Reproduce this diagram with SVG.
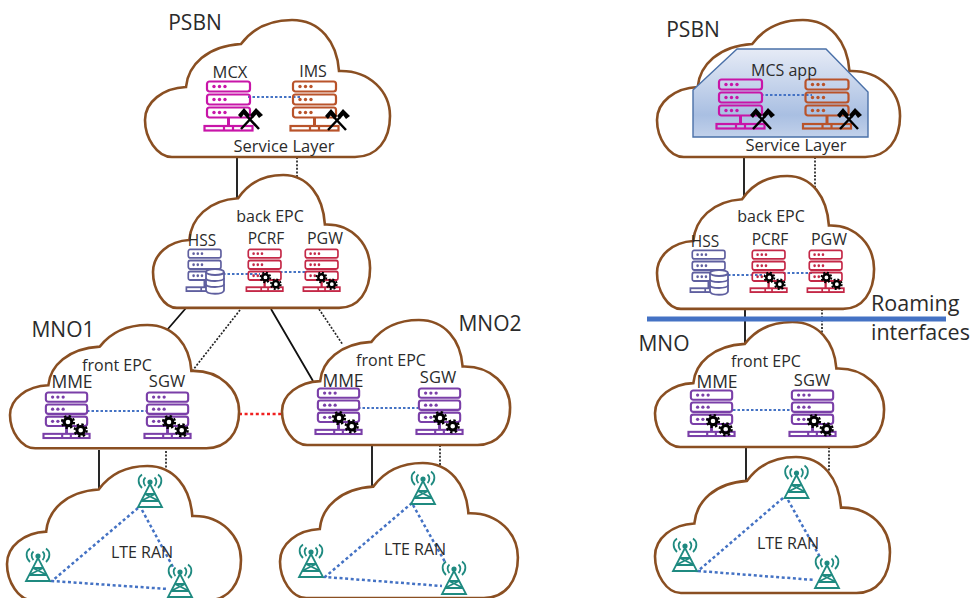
<svg xmlns="http://www.w3.org/2000/svg" width="971" height="598" viewBox="0 0 971 598">
<style>
text{font-family:"Open Sans","Noto Sans",sans-serif;fill:#2b2b2b;text-anchor:middle}
.t1{font-size:21px}.t2{font-size:16.5px}.t3{font-size:16px}.t4{font-size:15.5px}.t5{font-size:17.5px}.t6{font-size:21.5px;text-anchor:start}
.sl{font-size:16.5px}
.cl{fill:#fff;stroke:#8a4f22;stroke-width:2.6;vector-effect:non-scaling-stroke}
.so{stroke:#111;stroke-width:1.8;fill:none}
.do{stroke:#222;stroke-width:1.7;stroke-dasharray:2 1.6;fill:none}
.li{stroke:#4472c4;stroke-width:2;stroke-dasharray:2.5 2;fill:none}
.ra{stroke:#4472c4;stroke-width:2.5;stroke-dasharray:3 2.6;fill:none}
.mcx{color:#c815a8}.ims{color:#b9532a}.hss{color:#5f5f9f}.pc{color:#c42847}.mm{color:#7a3fa8}.tw{color:#1f8a80}
</style>
<defs>
<path id="cloud" class="cl" d="M27 137C12 137 0 118 0 100C0 82 18 68 41 67C43 45 62 26 96 24C108 8 125 0 147 0C175 0 192 22 194 51C225 50 245 72 245 96C245 120 232 137 210 137Z"/>
<linearGradient id="app" x1="0" y1="0" x2="0" y2="1"><stop offset="0" stop-color="#e6ebf6"/><stop offset=".75" stop-color="#a9bfe2"/><stop offset="1" stop-color="#c2d1ea"/></linearGradient>
<g id="server" fill="none" stroke="currentColor" stroke-width="2.2">
<rect x="3" y="0.5" width="43" height="10" rx="2.5"/><rect x="3" y="13.5" width="43" height="10" rx="2.5"/><rect x="3" y="26.5" width="43" height="10" rx="2.5"/>
<path d="M24.5 37V45" stroke-width="3"/><rect x="0.5" y="45" width="48" height="4.5"/><path d="M20 45v4.5M29 45v4.5"/>
<g fill="currentColor" stroke="none"><circle cx="10" cy="5.5" r="1.7"/><circle cx="15.500" cy="5.5" r="1.7"/><circle cx="21" cy="5.5" r="1.7"/><circle cx="10" cy="18.5" r="1.7"/><circle cx="15.500" cy="18.5" r="1.7"/><circle cx="21" cy="18.5" r="1.7"/><circle cx="10" cy="31.5" r="1.7"/><circle cx="15.500" cy="31.5" r="1.7"/><circle cx="21" cy="31.5" r="1.7"/></g>
</g>
<g id="tools" stroke="#000" fill="none">
<path d="M2 21L17 5M20 21L5 5" stroke-width="2.5"/><path d="M11 7L17 0L24 7L20 10L17 6L14 10ZM-1 7L5 0L11 7L8 10L5 6L2 10Z" fill="#000" stroke="none"/>
</g>
<g id="gears" fill="none" stroke="#000">
<circle cx="6" cy="6" r="3.8" stroke-width="3"/><circle cx="6" cy="6" r="6" stroke-width="2.2" stroke-dasharray="2.4 2.3"/>
<circle cx="18.7" cy="14.3" r="3.8" stroke-width="3"/><circle cx="18.7" cy="14.3" r="6" stroke-width="2.2" stroke-dasharray="2.4 2.3"/>
</g>
<g id="db" fill="#fff" stroke="#5f5f9f" stroke-width="1.8">
<path d="M0 3V21C0 26 18 26 18 21V3"/><ellipse cx="9" cy="3" rx="9" ry="3"/><path d="M0 9C0 13 18 13 18 9M0 15C0 19 18 19 18 15" fill="none"/>
</g>
<g id="tower" fill="none" stroke="currentColor" stroke-width="1.8">
<path d="M13 10L1 33H25ZM8 20H18M4 27H22M8 20L22 27M18 20L4 27"/>
<circle cx="13" cy="8" r="1.7" fill="currentColor"/>
<path d="M8.500 12C6 9.500 6 5.500 8.500 3.500M17.500 12C20 9.500 20 5.500 17.500 3.500M5 14C0.500 9.500 0.500 3.500 5 0.500M21 14C25.500 9.500 25.500 3.500 21 0.500"/>
</g>
</defs>
<g id="connectors">
<path class="so" d="M237 157V203M186 308L167 330M271 309L313 381M99 450V493M372 445V488M744 157V203M745 309V345M746 447V483"/>
<path class="do" d="M297 157V178M240 310L193 370M319 309L343 345M166 451V472M440 445V468M815 157V190M822 309V335M829 447V475"/>
<path d="M239 414H283" fill="none" stroke="#f02020" stroke-width="2.4" stroke-dasharray="3 2.6"/>
</g>
<g id="psbn-left"><use href="#cloud" transform="translate(145 20)"/>
<path class="li" d="M248 97H302"/>
<use href="#server" class="mcx" transform="translate(204 81)"/><use href="#server" class="ims" transform="translate(290 81)"/>
<use href="#tools" transform="translate(239 108)"/><use href="#tools" transform="translate(326 109)"/>
<text class="t1" x="195" y="30">PSBN</text><text class="t2" x="230" y="78">MCX</text><text class="t3" x="313" y="77">IMS</text><text class="sl" x="284" y="152">Service Layer</text></g>
<g id="back-epc-left"><use href="#cloud" transform="translate(153 175) scale(.886 .97)"/>
<path class="li" d="M223 274H260M280 272H307"/>
<use href="#server" class="hss" transform="translate(186 249) scale(.76 .85)"/><use href="#db" transform="translate(206 269)"/>
<use href="#server" class="pc" transform="translate(246 249) scale(.76 .85)"/><use href="#gears" transform="translate(260.500 272.500) scale(.82)"/>
<use href="#server" class="pc" transform="translate(303 249) scale(.76 .85)"/><use href="#gears" transform="translate(316.500 272.500) scale(.82)"/>
<text class="t3" x="270" y="222">back EPC</text><text class="t4" x="202" y="246">HSS</text><text class="t4" x="266" y="244">PCRF</text><text class="t3" x="325" y="244">PGW</text></g>
<g id="mno1-front"><use href="#cloud" transform="translate(10 325) scale(.935 .9)"/>
<path class="li" d="M87 411H147"/>
<use href="#server" class="mm" transform="translate(43 392) scale(.96 .93)"/><use href="#gears" transform="translate(62 416)"/>
<use href="#server" class="mm" transform="translate(144 392) scale(.96 .93)"/><use href="#gears" transform="translate(163 416)"/>
<text class="t1" x="63" y="337">MNO1</text><text class="t3" x="117" y="371">front EPC</text><text class="t5" x="72" y="388">MME</text><text class="t2" x="167" y="387">SGW</text></g>
<g id="mno2-front"><use href="#cloud" transform="translate(282 320) scale(.931 .912)"/>
<path class="li" d="M358 408H418"/>
<use href="#server" class="mm" transform="translate(315 388) scale(.96 .93)"/><use href="#gears" transform="translate(333 412)"/>
<use href="#server" class="mm" transform="translate(416 388) scale(.96 .93)"/><use href="#gears" transform="translate(434 412)"/>
<text class="t1" x="490" y="331">MNO2</text><text class="t3" x="391" y="366">front EPC</text><text class="t5" x="343" y="387">MME</text><text class="t2" x="438" y="383">SGW</text></g>
<g id="ran1"><use href="#cloud" transform="translate(7 466) scale(.955 .98)"/>
<path class="ra" d="M138 508L52 581L168 589M142 510L173 567"/>
<use href="#tower" class="tw" transform="translate(137 474)"/><use href="#tower" class="tw" transform="translate(25 548)"/><use href="#tower" class="tw" transform="translate(167 564)"/>
<text class="t3" x="142" y="558">LTE RAN</text></g>
<g id="ran2"><use href="#cloud" transform="translate(280 463) scale(.971 .985)"/>
<path class="ra" d="M412 503L325 577L442 586M413 505L445 562"/>
<use href="#tower" class="tw" transform="translate(410 471)"/><use href="#tower" class="tw" transform="translate(298 544)"/><use href="#tower" class="tw" transform="translate(441 561)"/>
<text class="t3" x="415" y="555">LTE RAN</text></g>
<g id="psbn-right"><use href="#cloud" transform="translate(657 20) scale(.992 1)"/>
<polygon points="693,90 737,49 826,49 868,92 868,137 693,137" fill="url(#app)" stroke="#4a70a8" stroke-width="1.4"/>
<path class="li" d="M761 95H812"/>
<use href="#server" class="mcx" transform="translate(716 79)"/><use href="#server" class="ims" transform="translate(802.500 79)"/>
<use href="#tools" transform="translate(751 108)"/><use href="#tools" transform="translate(838 108)"/>
<text class="t1" x="693" y="37">PSBN</text><text class="t3" x="784" y="76">MCS app</text><text class="sl" x="796" y="151">Service Layer</text></g>
<g id="back-epc-right"><use href="#cloud" transform="translate(657 176) scale(.886 .97)"/>
<path class="li" d="M728 275H765M783 273H812"/>
<use href="#server" class="hss" transform="translate(690 250) scale(.76 .85)"/><use href="#db" transform="translate(710 270)"/>
<use href="#server" class="pc" transform="translate(750 250) scale(.76 .85)"/><use href="#gears" transform="translate(764.500 272.500) scale(.82)"/>
<use href="#server" class="pc" transform="translate(807 250) scale(.76 .85)"/><use href="#gears" transform="translate(821.500 272.500) scale(.82)"/>
<text class="t3" x="771" y="222">back EPC</text><text class="t4" x="705" y="247">HSS</text><text class="t4" x="770" y="245">PCRF</text><text class="t3" x="829" y="245">PGW</text></g>
<g id="mno-right"><use href="#cloud" transform="translate(655 322) scale(.935 .912)"/>
<path class="li" d="M733 410H791"/>
<use href="#server" class="mm" transform="translate(688 390) scale(.96 .93)"/><use href="#gears" transform="translate(707 415)"/>
<use href="#server" class="mm" transform="translate(789 390) scale(.96 .93)"/><use href="#gears" transform="translate(808 415)"/>
<text class="t1" x="664" y="351">MNO</text><text class="t3" x="766" y="367">front EPC</text><text class="t5" x="717" y="388">MME</text><text class="t2" x="812" y="386">SGW</text></g>
<g id="ran3"><use href="#cloud" transform="translate(655 457) scale(.959 .993)"/>
<path class="ra" d="M783 498L698 571L815 580M788 500L820 557"/>
<use href="#tower" class="tw" transform="translate(783.500 465)"/><use href="#tower" class="tw" transform="translate(672 538)"/><use href="#tower" class="tw" transform="translate(814 555)"/>
<text class="t3" x="788" y="549">LTE RAN</text></g>
<g id="roaming"><path d="M647 319H946" stroke="#4472c4" stroke-width="5" fill="none"/>
<text class="t6" x="871" y="311">Roaming</text><text class="t6" x="871" y="340">interfaces</text></g>
</svg>
